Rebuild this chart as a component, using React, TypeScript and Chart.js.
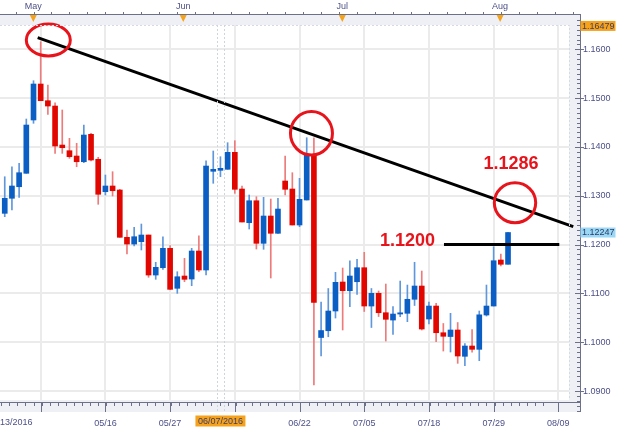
import React, { useEffect, useRef } from "react";
import { Chart, registerables } from "chart.js";

Chart.register(...registerables);

// ---- data (EUR/USD daily candles) ----
const opens = [
  1.1264, 1.12948, 1.13185, 1.1346, 1.14552, 1.15289, 1.14947, 1.14838, 1.14039, 1.13923,
  1.13814, 1.13697, 1.14259, 1.13747, 1.13083, 1.132, 1.13118, 1.12149, 1.12011, 1.12059,
  1.12196, 1.11376, 1.11526, 1.11923, 1.11104, 1.11356, 1.11294, 1.11868, 1.11479, 1.13501,
  1.13521, 1.13542, 1.1389, 1.13138, 1.12448, 1.12898, 1.12026, 1.12585, 1.12231, 1.13302,
  1.13138, 1.12401, 1.12913, 1.13835, 1.10096, 1.10235, 1.10639, 1.11233, 1.11055, 1.11239,
  1.11526, 1.10741, 1.11001, 1.10604, 1.10454, 1.10577, 1.10592, 1.10879, 1.11151, 1.10475,
  1.10741, 1.10194, 1.10116, 1.1025, 1.09711, 1.09922, 1.09854, 1.10557, 1.10741, 1.11684,
  1.11596,
];
const highs = [
  1.1339, 1.13595, 1.13665, 1.14572, 1.15357, 1.16156, 1.15269, 1.14906, 1.14757, 1.14177,
  1.14074, 1.14449, 1.14279, 1.13788, 1.13425, 1.13493, 1.13132, 1.12298, 1.12354, 1.12421,
  1.12196, 1.11637, 1.12161, 1.11977, 1.11444, 1.11718, 1.11923, 1.12181, 1.13718, 1.13917,
  1.138, 1.14087, 1.14128, 1.132, 1.13015, 1.1298, 1.12968, 1.12933, 1.12948, 1.13814,
  1.13472, 1.13357, 1.14189, 1.14189, 1.10823, 1.111, 1.11432, 1.1152, 1.11669, 1.11698,
  1.11841, 1.111, 1.11049, 1.11192, 1.10731, 1.11253, 1.11171, 1.11637, 1.11458, 1.10823,
  1.10797, 1.10383, 1.10592, 1.10403, 1.09973, 1.1026, 1.10639, 1.11171, 1.11956, 1.11807,
  1.12251,
];
const lows = [
  1.12571, 1.12708, 1.12968, 1.1346, 1.14484, 1.14947, 1.14668, 1.13869, 1.13869, 1.13767,
  1.13595, 1.13677, 1.13712, 1.12825, 1.13015, 1.12995, 1.12149, 1.11807, 1.1197, 1.11889,
  1.11329, 1.11288, 1.11493, 1.11083, 1.11001, 1.11239, 1.11157, 1.11444, 1.11376, 1.13255,
  1.1339, 1.13542, 1.1305, 1.12462, 1.12319, 1.11909, 1.11903, 1.11315, 1.12231, 1.13015,
  1.12401, 1.12366, 1.12913, 1.09123, 1.09717, 1.10112, 1.10495, 1.1025, 1.10727, 1.10981,
  1.10629, 1.10301, 1.10526, 1.10024, 1.10161, 1.10522, 1.1042, 1.10752, 1.1025, 1.10372,
  1.1001, 1.09819, 1.09799, 1.09567, 1.09518, 1.09795, 1.09621, 1.10536, 1.10741, 1.11561,
  1.11596,
];
const closes = [
  1.12948, 1.132, 1.13472, 1.14449, 1.15289, 1.14947, 1.14838, 1.14019, 1.13984, 1.138,
  1.13697, 1.14244, 1.13732, 1.1303, 1.132, 1.13103, 1.12149, 1.12011, 1.12161, 1.12196,
  1.11376, 1.11534, 1.11923, 1.11083, 1.11341, 1.11288, 1.11868, 1.11479, 1.13609, 1.13542,
  1.13562, 1.1389, 1.13132, 1.12462, 1.12898, 1.12026, 1.12585, 1.12231, 1.12728, 1.13132,
  1.12401, 1.12927, 1.13835, 1.10817, 1.10239, 1.10639, 1.11227, 1.11055, 1.11356, 1.11526,
  1.10741, 1.11001, 1.10604, 1.10469, 1.10577, 1.10602, 1.10879, 1.11151, 1.1027, 1.10741,
  1.10194, 1.10121, 1.1025, 1.09717, 1.09922, 1.09854, 1.10561, 1.10741, 1.11669, 1.11596,
  1.12247,
];

// bottom axis (candle index of grid line -> label)
const gridIndices = [5, 14, 23, 32, 41, 50, 59, 68, 77];
const dateLabels = ["", "05/16", "05/27", "", "06/22", "07/05", "07/18", "07/29", "08/09"];
const firstDateLabel = "13/2016";
const cursorLabel = "06/07/2016";
const cursorIndex = 30;
// top axis months
const monthNames = ["May", "Jun", "Jul", "Aug"];
const monthIndex = [3.97, 24.83, 46.95, 68.9];
// price axis
const priceTicks = [1.09, 1.1, 1.11, 1.12, 1.13, 1.14, 1.15, 1.16];
const maxPriceLabel = 1.16479;
const lastPriceLabel = 1.12247;
// drawn annotations (data coordinates)
const trendX = [4.58, 79.07];
const trendY = [1.16238, 1.12366];
const levelX = [61.09, 77.13];
const levelY = [1.12, 1.12];
const circleX = [6.06, 42.66, 70.97];
const circleY = [1.16191, 1.14279, 1.12857];
const noteTexts = ["1.1286", "1.1200"];
const noteX = [70.41, 56.02];
const noteY = [1.1366, 1.12073];

// ---- styles ----
const W = 624;
const H = 432;
const BLUE = "#0b5ec3";
const RED = "#e10600";
const BLUE_WICK = "#5f97dc";
const RED_WICK = "#ee7a7a";
const AXIS_TEXT = "#4c5088";
const GRID = "#ebebeb";
const ANNO_RED = "#e8141c";
const circleR = [
  [22, 16],
  [21, 21.7],
  [20.7, 20],
];
const FONT = "'Liberation Sans', Arial, sans-serif";

const decorPlugin = {
  id: "decor",
  beforeDraw(chart: any) {
    const { ctx } = chart;
    const { left, right, top, bottom } = chart.chartArea;
    ctx.save();
    ctx.fillStyle = "#ffffff";
    ctx.fillRect(0, 0, W, H);
    ctx.fillStyle = "#eef0f5";
    ctx.fillRect(0, 14, 580, 398);
    ctx.fillStyle = "#ffffff";
    ctx.fillRect(left, top, right - left, bottom - top);
    ctx.restore();
  },
  afterDatasetsDraw(chart: any) {
    const { ctx } = chart;
    const xs = chart.scales.x;
    const ys = chart.scales.y;
    ctx.save();
    // circles
    ctx.strokeStyle = ANNO_RED;
    ctx.lineWidth = 3;
    circleX.forEach((cx, i) => {
      const px = xs.getPixelForValue(cx);
      const py = ys.getPixelForValue(circleY[i]);
      ctx.beginPath();
      ctx.ellipse(px, py, circleR[i][0], circleR[i][1], 0, 0, Math.PI * 2);
      ctx.stroke();
    });
    // notes
    ctx.fillStyle = ANNO_RED;
    ctx.font = `bold 18px ${FONT}`;
    ctx.textAlign = "center";
    ctx.textBaseline = "middle";
    noteTexts.forEach((t, i) => {
      ctx.fillText(t, xs.getPixelForValue(noteX[i]), ys.getPixelForValue(noteY[i]));
    });
    ctx.restore();
  },
  afterDraw(chart: any) {
    const { ctx } = chart;
    const xs = chart.scales.x;
    const ys = chart.scales.y;
    const { left, right, top, bottom } = chart.chartArea;
    ctx.save();
    // inner border
    ctx.strokeStyle = "#d6dae4";
    ctx.lineWidth = 1;
    ctx.setLineDash([2, 2]);
    ctx.beginPath();
    ctx.moveTo(left, top + 0.5);
    ctx.lineTo(right + 0.5, top + 0.5);
    ctx.lineTo(right + 0.5, bottom);
    ctx.stroke();
    // cursor dotted lines
    ctx.strokeStyle = "#d0d4de";
    [cursorIndex - 0.5, cursorIndex + 0.5].forEach((v) => {
      const px = Math.round(xs.getPixelForValue(v)) + 0.5;
      ctx.beginPath();
      ctx.moveTo(px, top);
      ctx.lineTo(px, 412);
      ctx.stroke();
    });
    ctx.setLineDash([]);

    // right axis line and ticks
    ctx.strokeStyle = "#6d7187";
    ctx.lineWidth = 1;
    ctx.beginPath();
    ctx.moveTo(580.5, 14);
    ctx.lineTo(580.5, 412);
    ctx.stroke();
    for (let k = 1086; k <= 1166; k++) {
      const p = k / 1000;
      const py = Math.round(ys.getPixelForValue(p)) + 0.5;
      if (py < 14 || py > 412) continue;
      const major = k % 10 === 0;
      ctx.beginPath();
      ctx.moveTo(major ? 575 : 577, py);
      ctx.lineTo(major ? 584 : 580, py);
      ctx.stroke();
    }
    // top axis
    ctx.beginPath();
    ctx.moveTo(0, 14.5);
    ctx.lineTo(580, 14.5);
    ctx.stroke();
    for (let v = -1; v <= 79; v += 2.5) {
      const px = Math.round(xs.getPixelForValue(v)) + 0.5;
      ctx.beginPath();
      ctx.moveTo(px, 12);
      ctx.lineTo(px, 15);
      ctx.stroke();
    }
    // bottom axis
    ctx.beginPath();
    ctx.moveTo(0, 402.5);
    ctx.lineTo(580, 402.5);
    ctx.stroke();
    for (let v = -1; v <= 79; v += 9 / 8) {
      const px = Math.round(xs.getPixelForValue(v + 5 - 9)) + 0.5;
      ctx.beginPath();
      ctx.moveTo(px, 403);
      ctx.lineTo(px, 406);
      ctx.stroke();
    }
    gridIndices.forEach((g) => {
      const px = Math.round(xs.getPixelForValue(g)) + 0.5;
      ctx.beginPath();
      ctx.moveTo(px, 402);
      ctx.lineTo(px, 412);
      ctx.stroke();
    });

    // month labels + markers
    ctx.font = `9px ${FONT}`;
    ctx.fillStyle = AXIS_TEXT;
    ctx.textAlign = "center";
    ctx.textBaseline = "middle";
    monthNames.forEach((m, i) => {
      const px = xs.getPixelForValue(monthIndex[i]);
      ctx.fillStyle = AXIS_TEXT;
      ctx.fillText(m, px, 7);
      ctx.fillStyle = "#f5a31b";
      ctx.beginPath();
      ctx.moveTo(px - 3.5, 15);
      ctx.lineTo(px + 3.5, 15);
      ctx.lineTo(px, 22);
      ctx.closePath();
      ctx.fill();
    });
    // first date label (clipped)
    ctx.fillStyle = AXIS_TEXT;
    ctx.textAlign = "left";
    ctx.fillText(firstDateLabel, 0, 423);
    // cursor date label
    const cx = xs.getPixelForValue(cursorIndex);
    ctx.fillStyle = "#f7a21b";
    ctx.fillRect(cx - 25, 415.5, 50, 11);
    ctx.fillStyle = "#3b3f6b";
    ctx.textAlign = "center";
    ctx.fillText(cursorLabel, cx, 421.5);

    // price labels
    const boxLabel = (p: number, bg: string, fg: string) => {
      const py = ys.getPixelForValue(p);
      ctx.fillStyle = bg;
      ctx.fillRect(580.5, py - 5, 35, 10);
      ctx.fillStyle = fg;
      ctx.textAlign = "left";
      ctx.fillText(p.toFixed(5), 582, py + 0.5);
    };
    boxLabel(maxPriceLabel, "#f7a21b", "#3b3f6b");
    boxLabel(lastPriceLabel, "#9bd8f5", "#2d3a6b");
    ctx.restore();
  },
};

export default function App() {
  const ref = useRef<HTMLCanvasElement | null>(null);
  useEffect(() => {
    document.body.style.margin = "0";
    const canvas = ref.current!;
    const bodies = opens.map((o, i) => ({
      x: i,
      y: [Math.min(o, closes[i]), Math.max(o, closes[i])],
    }));
    const wicks = opens.map((_, i) => ({ x: i, y: [lows[i], highs[i]] }));
    const up = opens.map((o, i) => closes[i] >= o);
    const chart = new Chart(canvas, {
      type: "bar",
      data: {
        datasets: [
          {
            type: "bar",
            data: wicks as any,
            backgroundColor: up.map((u) => (u ? BLUE_WICK : RED_WICK)),
            barThickness: 1,
            grouped: false,
            borderWidth: 0,
            order: 3,
          },
          {
            type: "bar",
            data: bodies as any,
            backgroundColor: up.map((u) => (u ? BLUE : RED)),
            barThickness: 5,
            grouped: false,
            borderWidth: 0,
            minBarLength: 1,
            order: 2,
          },
          {
            type: "line",
            data: trendX.map((x, i) => ({ x, y: trendY[i] })) as any,
            borderColor: "#000000",
            borderWidth: 3,
            pointRadius: 0,
            clip: 12 as any,
            order: 1,
          },
          {
            type: "line",
            data: levelX.map((x, i) => ({ x, y: levelY[i] })) as any,
            borderColor: "#000000",
            borderWidth: 3,
            pointRadius: 0,
            order: 1,
          },
        ],
      },
      options: {
        animation: false,
        responsive: false,
        maintainAspectRatio: false,
        layout: { padding: { top: 25, left: 0, right: 0, bottom: 0 }, autoPadding: false } as any,
        plugins: { legend: { display: false }, tooltip: { enabled: false } },
        scales: {
          x: {
            type: "linear",
            position: "bottom",
            min: -0.66,
            max: 78.48,
            offset: false,
            grid: { color: GRID, lineWidth: 2, drawTicks: false, offset: false },
            border: { display: false },
            afterBuildTicks: (s: any) => {
              s.ticks = gridIndices.map((v) => ({ value: v }));
            },
            afterFit: (s: any) => {
              s.height = 32;
            },
            ticks: {
              autoSkip: false,
              maxRotation: 0,
              padding: 18,
              color: AXIS_TEXT,
              font: { size: 9, family: FONT },
              callback: (v: any) => {
                const k = gridIndices.indexOf(Number(v));
                return k >= 0 ? dateLabels[k] : "";
              },
            },
          },
          y: {
            type: "linear",
            position: "right",
            min: 1.08816,
            max: 1.16498,
            grid: { color: GRID, lineWidth: 2, drawTicks: false },
            border: { display: false },
            afterBuildTicks: (s: any) => {
              s.ticks = priceTicks.map((v) => ({ value: v }));
            },
            afterFit: (s: any) => {
              s.width = 55;
            },
            ticks: {
              padding: 14,
              color: AXIS_TEXT,
              font: { size: 9, family: FONT },
              callback: (v: any) => Number(v).toFixed(4),
            },
          },
        },
      } as any,
      plugins: [decorPlugin],
    });
    return () => chart.destroy();
  }, []);
  return <canvas ref={ref} width={W} height={H} style={{ display: "block", width: W, height: H }} />;
}
